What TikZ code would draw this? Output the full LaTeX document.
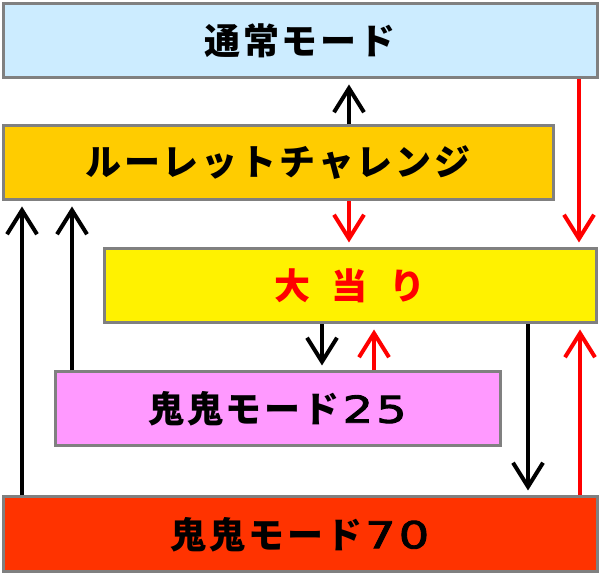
\documentclass[tikz,border=0pt]{standalone}
\usepackage{fontspec}
\usepackage{xcolor}
\usepackage{tikz}
\usetikzlibrary{arrows.meta}
\newfontfamily\jp{Noto Sans CJK JP Black}[LetterSpace=8]
\newfontfamily\num{DejaVu Sans}[FakeStretch=1.3,FakeBold=2.5,LetterSpace=8]
\definecolor{boxgray}{RGB}{128,128,128}
\definecolor{normalblue}{RGB}{204,236,255}
\definecolor{roulette}{RGB}{255,204,0}
\definecolor{hitred}{RGB}{255,0,0}
\definecolor{oni25}{RGB}{255,153,255}
\definecolor{oni70}{RGB}{255,51,0}

\begin{document}
\begin{tikzpicture}[x=1pt,y=1pt,
  mode/.style={rectangle,draw=boxgray,line width=3pt,minimum height=74pt,inner sep=0pt,
    font=\jp\fontsize{36}{40}\selectfont},
  blk/.style={-{Straight Barb[length=24pt,width=30pt]},line width=4pt,black,shorten >=5pt},
  rd/.style={blk,draw=hitred}]
\useasboundingbox (0,0) rectangle (600,575);

\node[mode,fill=normalblue,minimum width=594pt] (A) at (300,534) {通常モード};
\node[mode,fill=roulette,minimum width=550pt] (B) at (278,412) {ルーレットチャレンジ};
\node[mode,fill=yellow,text=hitred,minimum width=492pt] (C) at (350,289) {大\hspace{22pt}当\hspace{22pt}り};
\node[mode,fill=oni25,minimum width=445pt] (D) at (277.5,166) {鬼鬼モード\hspace{3pt}{\num\fontsize{37}{40}\selectfont 25}};
\node[mode,fill=oni70,minimum width=594pt,minimum height=75pt] (E) at (300,40.5) {鬼鬼モード\hspace{3pt}{\num\fontsize{37}{40}\selectfont 70}};

\path ([xshift=71pt]B.north) edge [blk] ([xshift=49pt]A.south);
\path ([xshift=279pt]A.south) edge [rd] ([xshift=229pt]C.north);
\path ([xshift=71pt]B.south) edge [rd] ([xshift=-1pt]C.north);
\path ([xshift=-28pt]C.south) edge [blk] ([xshift=44.5pt]D.north);
\path ([xshift=96.5pt]D.north) edge [rd] ([xshift=24pt]C.south);
\path ([xshift=178pt]C.south) edge [blk] ([xshift=228pt]E.north);
\path ([xshift=280pt]E.north) edge [rd] ([xshift=230pt]C.south);
\path ([xshift=-278pt]E.north) edge [blk] ([xshift=-256pt]B.south);
\path ([xshift=-205.5pt]D.north) edge [blk] ([xshift=-206pt]B.south);
\end{tikzpicture}
\end{document}
